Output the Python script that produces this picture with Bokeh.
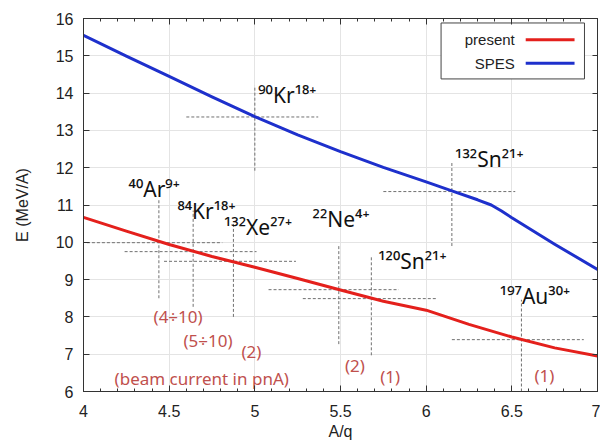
from bokeh.plotting import figure
from bokeh.models import (ColumnDataSource, LinearAxis, FixedTicker, Range1d, Label)
from bokeh.core.properties import value
from bokeh.embed import file_html
from bokeh.resources import INLINE

# ---------------- data ----------------
spes_x = [4.0, 4.25, 4.5, 4.75, 5.0, 5.25, 5.5, 5.75, 6.0, 6.15, 6.3, 6.38, 6.44,
          6.5, 6.75, 7.0]
spes_y = [15.55, 14.99, 14.45, 13.9, 13.37, 12.88, 12.43, 12.01, 11.62, 11.38,
          11.14, 11.0, 10.84, 10.66, 9.95, 9.27]

present_x = [4.0, 4.25, 4.5, 4.75, 5.0, 5.25, 5.5, 5.75, 6.0, 6.25, 6.5, 6.75, 7.0]
present_y = [10.67, 10.3, 9.94, 9.62, 9.33, 9.03, 8.72, 8.42, 8.18, 7.8, 7.46,
             7.17, 6.95]

ion_names = ["\u2074\u2070Ar\u2079\u207a", "\u2078\u2074Kr\u00b9\u2078\u207a",
             "\u00b9\u00b3\u00b2Xe\u00b2\u2077\u207a", "\u2079\u2070Kr\u00b9\u2078\u207a",
             "\u00b2\u00b2Ne\u2074\u207a", "\u00b9\u00b2\u2070Sn\u00b2\u00b9\u207a",
             "\u00b9\u00b3\u00b2Sn\u00b2\u00b9\u207a", "\u00b9\u2079\u2077Au\u00b3\u2070\u207a"]
ion_vx = [4.44, 4.64, 4.875, 5.0, 5.49, 5.68, 6.15, 6.556]
ion_vy0 = [8.5, 8.27, 8.0, 11.92, 7.27, 6.97, 9.9, 6.0]
ion_vy1 = [11.15, 10.85, 10.55, 14.2, 9.95, 9.65, 12.17, 8.46]
ion_hx0 = [4.02, 4.24, 4.47, 4.60, 5.08, 5.28, 5.75, 6.15]
ion_hx1 = [4.81, 5.01, 5.24, 5.37, 5.84, 6.06, 6.52, 6.92]
ion_hy = [9.99, 9.75, 9.49, 13.36, 8.73, 8.49, 11.36, 7.39]
ion_label_x = [4.263, 4.548, 4.82, 5.02, 5.337, 5.72, 6.169, 6.43]
ion_label_y = [11.43, 10.85, 10.41, 13.95, 10.62, 9.49, 12.22, 8.55]

current_text = ["(4\u00f710)", "(5\u00f710)", "(2)", "(2)", "(1)", "(1)",
                "(beam current in pnA)"]
current_x = [4.552, 4.727, 4.98, 5.584, 5.79, 6.69, 4.69]
current_y = [8.0, 7.38, 7.06, 6.70, 6.41, 6.43, 6.34]

x_ticks = [4, 4.5, 5, 5.5, 6, 6.5, 7]
x_tick_labels = ["4", "4.5", "5", "5.5", "6", "6.5", "7"]
x_minor = [4.1, 4.2, 4.3, 4.4, 4.6, 4.7, 4.8, 4.9, 5.1, 5.2, 5.3, 5.4, 5.6, 5.7,
           5.8, 5.9, 6.1, 6.2, 6.3, 6.4, 6.6, 6.7, 6.8, 6.9]
y_ticks = [6, 7, 8, 9, 10, 11, 12, 13, 14, 15, 16]
y_tick_labels = ["6", "7", "8", "9", "10", "11", "12", "13", "14", "15", "16"]

legend_labels = ["present", "SPES"]

# ---------------- styles ----------------
RED = "#e4201c"
BLUE = "#1e30cc"
NOTE = "#c0504d"
AXIS_FONT = "Liberation Sans"

p = figure(width=600, height=442, x_range=Range1d(4, 7), y_range=Range1d(6, 16),
           output_backend="svg", toolbar_location=None,
           min_border_left=83, min_border_top=18, min_border_right=3,
           min_border_bottom=47)
p.background_fill_color = "white"
p.border_fill_color = "white"
p.outline_line_color = "#333333"
p.outline_line_width = 1

xt = FixedTicker(ticks=x_ticks, minor_ticks=x_minor)
yt = FixedTicker(ticks=y_ticks, minor_ticks=[])
x_over = {float(k): v for k, v in zip(x_ticks, x_tick_labels)}
y_over = {float(k): v for k, v in zip(y_ticks, y_tick_labels)}

def style_axis(ax, ticker, show_labels):
    ax.ticker = ticker
    ax.axis_line_color = "#333333"
    ax.major_tick_in = 6
    ax.major_tick_out = 0
    ax.minor_tick_in = 3
    ax.minor_tick_out = 0
    ax.major_tick_line_color = "#333333"
    ax.minor_tick_line_color = "#333333"
    if show_labels:
        ax.major_label_text_font = AXIS_FONT
        ax.major_label_text_font_size = "16px"
        ax.major_label_text_color = "#222222"
    else:
        ax.major_label_text_font_size = "1px"
        ax.major_label_text_color = None
        ax.major_label_standoff = 0
        ax.axis_label = None

xa = p.xaxis[0]
ya = p.yaxis[0]
style_axis(xa, xt, True)
style_axis(ya, yt, True)
xa.major_label_overrides = x_over
ya.major_label_overrides = y_over
xa.major_label_standoff = 13
ya.major_label_standoff = 10
xa.axis_label = "A/q"
ya.axis_label = "E (MeV/A)"
for ax in (xa, ya):
    ax.axis_label_text_font = AXIS_FONT
    ax.axis_label_text_font_size = "16px"
    ax.axis_label_text_font_style = "normal"
    ax.axis_label_text_color = "#222222"
xa.axis_label_standoff = 3
ya.axis_label_standoff = 22

top_ax = LinearAxis()
style_axis(top_ax, xt, False)
p.add_layout(top_ax, "above")
right_ax = LinearAxis()
style_axis(right_ax, yt, False)
right_ax.major_tick_in = 5
p.add_layout(right_ax, "right")

p.xgrid.ticker = FixedTicker(ticks=x_ticks)
p.ygrid.ticker = FixedTicker(ticks=y_ticks)
p.grid.grid_line_color = "#e4e4e4"
p.grid.grid_line_width = 1

# dashed crosshairs
ions = ColumnDataSource(dict(name=ion_names, vx=ion_vx, vy0=ion_vy0, vy1=ion_vy1,
                             hx0=ion_hx0, hx1=ion_hx1, hy=ion_hy,
                             lx=ion_label_x, ly=ion_label_y))
p.segment(x0="vx", y0="vy0", x1="vx", y1="vy1", source=ions,
          line_color="#707070", line_width=1, line_dash="3 2")
p.segment(x0="hx0", y0="hy", x1="hx1", y1="hy", source=ions,
          line_color="#707070", line_width=1, line_dash="3 2")

# curves
p.line(present_x, present_y, line_color=RED, line_width=3, line_join="round")
p.line(spes_x, spes_y, line_color=BLUE, line_width=3, line_join="round")

# ion labels
p.text(x="lx", y="ly", text="name", source=ions, text_font=value("Noto Sans"),
       text_font_size="21px", text_color="#111111", text_align="left",
       text_baseline="alphabetic")

# beam currents
cur = ColumnDataSource(dict(x=current_x, y=current_y, t=current_text))
p.text(x="x", y="y", text="t", source=cur, text_font=value("Noto Sans"),
       text_font_size="17px", text_color=NOTE, text_align="center",
       text_baseline="middle")

# legend (gnuplot style: label then line sample)
p.quad(left=[6.087], right=[6.924], bottom=[14.38], top=[15.88],
       fill_color="white", line_color="#444444", line_width=1)
for lab, yy, col in zip(legend_labels, [15.43, 14.80], [RED, BLUE]):
    p.add_layout(Label(x=6.517, y=yy, text=lab, text_align="right",
                       text_baseline="middle", text_font=AXIS_FONT,
                       text_font_size="15px", text_color="#222222"))
    p.line([6.581, 6.866], [yy, yy], line_color=col, line_width=3)

open("out.html", "w").write(file_html(p, INLINE))
